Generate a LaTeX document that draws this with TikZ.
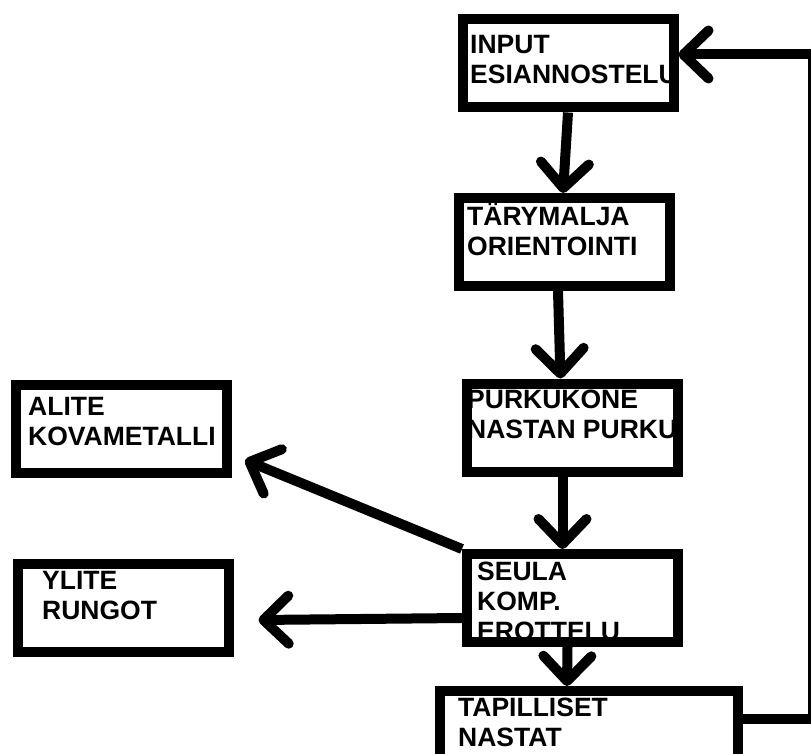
\documentclass[tikz,border=0pt]{standalone}
\usepackage{fontspec}
\setmainfont{Liberation Sans}
\usetikzlibrary{arrows.meta,positioning,calc}

\tikzset{
  stage/.style={draw, line width=10pt, minimum width=211pt, minimum height=88pt, inner sep=0pt},
  stagetxt/.style={anchor=north west, inner sep=0pt, align=left, font=\fontsize{26.5}{30}\selectfont\bfseries},
  flow/.style={line width=10pt, -{Straight Barb[length=25pt, width=48pt, round]}},
}

\begin{document}
\begin{tikzpicture}[x=1pt,y=-1pt]
    \useasboundingbox (0,0) rectangle (811,754);
    \clip (0,0) rectangle (811,754);

    % texts first, the frames go over them
    \node[stagetxt] (inputtxt) at (470,35) {INPUT\\ESIANNOSTELU};
    \node[stagetxt] (tarytxt) at (467,203) {TÄRYMALJA\\ORIENTOINTI};
    \node[stagetxt] (purkutxt) at (467,390) {PURKUKONE\\NASTAN PURKU};
    \node[stagetxt] (seulatxt) at (477,562) {SEULA\\KOMP.\\EROTTELU};
    \node[stagetxt] (tapiltxt) at (458,698) {TAPILLISET\\NASTAT};
    \node[stagetxt] (alitetxt) at (28,397) {ALITE\\KOVAMETALLI};
    \node[stagetxt] (ylitetxt) at (42,571) {YLITE\\RUNGOT};

    % frames
    \node[stage] (input) at (568,63.5) {};
    \node[stage] (tary) at (564,242) {};
    \node[stage] (purku) at (572.5,427.5) {};
    \node[stage] (seula) at (572.5,598) {};
    \node[stage, minimum width=298pt] (tapil) at (589,735) {};
    \node[stage] (alite) at (121.5,429) {};
    \node[stage] (ylite) at (123,608) {};

    % main line
    \draw[flow] (input.south) -- ([xshift=-1pt]tary.north);
    \draw[flow] ([xshift=-6pt]tary.south) -- ([xshift=-12pt]purku.north);
    \draw[flow] ([xshift=-10pt]purku.south) -- ([xshift=-10pt]seula.north);
    \draw[flow] ([xshift=-5pt]seula.south) -- ([xshift=-22pt]tapil.north);

    % outputs
    \draw[flow] (seula.north west) -- ([shift={(13,-18)}]alite.south east);
    \draw[flow] ([shift={(0,20)}]seula.west) -- ([shift={(25,12)}]ylite.east);

    % back to input
    \coordinate (back) at (813,400);
    \draw[flow] ([shift={(0,-16)}]tapil.east) -| (back) |- ([shift={(0,-9)}]input.east);
\end{tikzpicture}
\end{document}
